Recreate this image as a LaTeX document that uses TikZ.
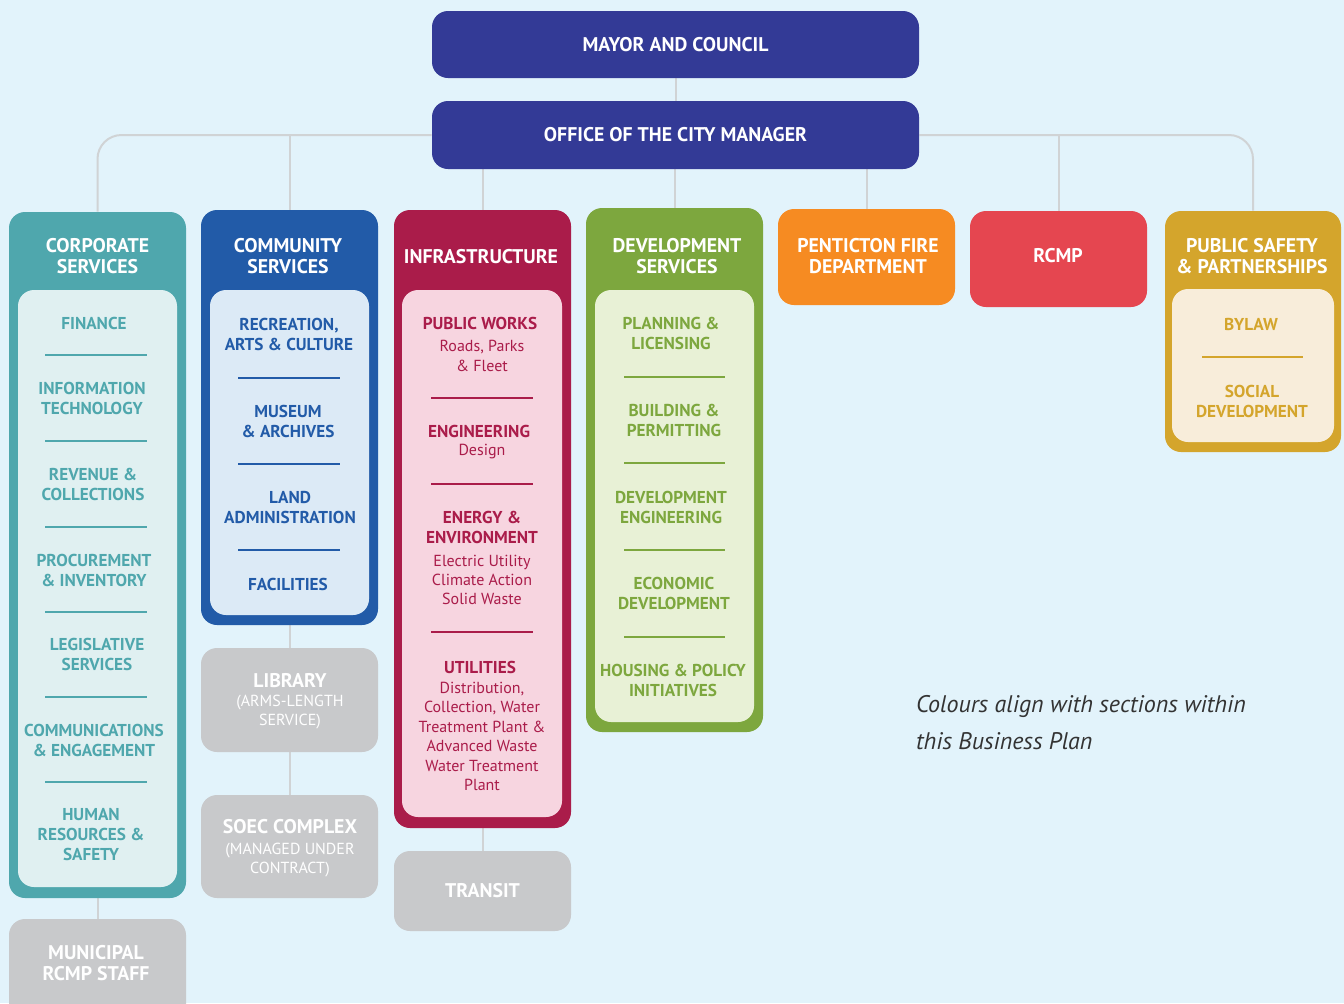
\documentclass[tikz,border=0pt]{standalone}
\usepackage{fontspec}
\setmainfont{PT Sans}
\usetikzlibrary{positioning, fit, backgrounds}

\definecolor{bgblue}{HTML}{E2F3FB}
\definecolor{navy}{HTML}{333A96}
\definecolor{corpteal}{HTML}{4FA7AD}
\definecolor{corpin}{HTML}{E0F0F1}
\definecolor{commblue}{HTML}{225BA8}
\definecolor{commin}{HTML}{DCEAF6}
\definecolor{infracrim}{HTML}{AA1C4A}
\definecolor{infrain}{HTML}{F7D5E0}
\definecolor{devgreen}{HTML}{7DA73E}
\definecolor{devin}{HTML}{E8F1D6}
\definecolor{fireorange}{HTML}{F68B22}
\definecolor{rcmpred}{HTML}{E54650}
\definecolor{safegold}{HTML}{D4A52C}
\definecolor{safein}{HTML}{F8EDDA}
\definecolor{othergray}{HTML}{C8C9CB}
\definecolor{connline}{HTML}{D0D3D5}
\definecolor{notegray}{HTML}{333333}

\begin{document}
\begin{tikzpicture}[x=0.5pt, y=-0.5pt,
  box/.style={inner sep=0pt, rounded corners=8pt, draw=none},
  head/.style={font=\bfseries\fontsize{9.9}{10.25}\selectfont, text=white, align=center},
  item/.style={font=\bfseries\fontsize{8.6}{10}\selectfont, align=center},
  sub/.style={font=\fontsize{8}{9.7}\selectfont, align=center},
  conn/.style={draw=connline, line width=1pt},
  divider/.style={line width=0.75pt}
]

  \clip (0,0) rectangle (1344,1003);

  % Mayor and city manager
  \node[box, fill=navy, fit={(432,11) (919,78)}] (mayor) {};
  \node[head] (mayortext) at (mayor) {MAYOR AND COUNCIL};
  \node[box, fill=navy, fit={(432,101) (919,169)}] (office) {};
  \node[head] (officetext) at (office) {OFFICE OF THE CITY MANAGER};

  % Department columns
  \node[box, fill=corpteal, fit={(9,212) (186,898)}] (corp) {};
  \node[box, fill=corpin, fit={(18,290) (177,887)}] (corpin) {};
  \node[head] (corphead) at (97.5,256) {CORPORATE\\SERVICES};

  \node[box, fill=commblue, fit={(201,210) (378,625)}] (comm) {};
  \node[box, fill=commin, fit={(210,290) (369,615)}] (commin) {};
  \node[head] (commhead) at (288,256) {COMMUNITY\\SERVICES};

  \node[box, fill=infracrim, fit={(394,210) (571,828)}] (infra) {};
  \node[box, fill=infrain, fit={(402,290) (562,817)}] (infrain) {};
  \node[head] (infrahead) at (481,257) {INFRASTRUCTURE};

  \node[box, fill=devgreen, fit={(586,208) (763,732)}] (dev) {};
  \node[box, fill=devin, fit={(595,290) (754,722)}] (devin) {};
  \node[head] (devhead) at (677,256) {DEVELOPMENT\\SERVICES};

  \node[box, fill=fireorange, fit={(778,209) (955,305)}] (fire) {};
  \node[head] (firehead) at (868,256) {PENTICTON FIRE\\DEPARTMENT};

  \node[box, fill=rcmpred, fit={(970,211) (1147,307)}] (rcmp) {};
  \node[head] (rcmphead) at (1058,256) {RCMP};

  \node[box, fill=safegold, fit={(1165,211) (1341,452)}] (safe) {};
  \node[box, fill=safein, fit={(1172,289) (1334,442)}] (safein) {};
  \node[head] (safehead) at (1252,256) {PUBLIC SAFETY\\\& PARTNERSHIPS};

  % Arms-length and contracted units
  \node[box, fill=othergray, fit={(201,648) (378,752)}] (library) {};
  \node[head] (libhead) at (290,681) {LIBRARY};
  \node[sub, text=white] (libsub) at (290,712) {(ARMS-LENGTH\\SERVICE)};

  \node[box, fill=othergray, fit={(201,795) (378,898)}] (soec) {};
  \node[head] (soechead) at (290,827) {SOEC COMPLEX};
  \node[sub, text=white] (soecsub) at (290,860) {(MANAGED UNDER\\CONTRACT)};

  \node[box, fill=othergray, fit={(394,851) (571,931)}] (transit) {};
  \node[head] (transithead) at (transit) {TRANSIT};

  \node[box, fill=othergray, fit={(9,919) (186,1020)}] (staff) {};
  \node[head] (staffhead) at (96,963) {MUNICIPAL\\RCMP STAFF};

  % Background and connectors
  \begin{scope}[on background layer]
    \fill[bgblue] (0,0) rectangle (1344,1003);
    \draw[conn] (mayor) -- (office);
    \draw[conn, rounded corners=12pt] (corp.north) |- (office.west);
    \draw[conn, rounded corners=12pt] (safe.north) |- (office.east);
    \draw[conn] (comm.north) -- (comm.north |- office.west);
    \draw[conn] (rcmp.north) -- (rcmp.north |- office.east);
    \draw[conn] (infra.north) -- (infra.north |- office.south);
    \draw[conn] (dev.north) -- (dev.north |- office.south);
    \draw[conn] (fire.north) -- (fire.north |- office.south);
    \draw[conn] (corp.south) -- (staff.north);
    \draw[conn] (comm.south) -- (library.north);
    \draw[conn] (library.south) -- (soec.north);
    \draw[conn] (infra.south) -- (transit.north);
  \end{scope}

  % Corporate services
  \node[item, text=corpteal] (finance) at (94,323) {FINANCE};
  \node[item, text=corpteal] (infotech) at (92,398) {INFORMATION\\TECHNOLOGY};
  \node[item, text=corpteal] (revenue) at (93,484) {REVENUE \&\\COLLECTIONS};
  \node[item, text=corpteal] (procure) at (94,570) {PROCUREMENT\\\& INVENTORY};
  \node[item, text=corpteal] (legis) at (97,654) {LEGISLATIVE\\SERVICES};
  \node[item, text=corpteal] (comms) at (94,740) {COMMUNICATIONS\\\& ENGAGEMENT};
  \node[item, text=corpteal] (hr) at (91,835) {HUMAN\\RESOURCES \&\\SAFETY};
  \foreach \y in {355,441,527,612,697,782}
    \draw[divider, corpteal] (45,\y) -- (147,\y);

  % Community services
  \node[item, text=commblue] (rec) at (289,334.5) {RECREATION,\\ARTS \& CULTURE};
  \node[item, text=commblue] (museum) at (288,421) {MUSEUM\\\& ARCHIVES};
  \node[item, text=commblue] (land) at (290,507.5) {LAND\\ADMINISTRATION};
  \node[item, text=commblue] (facil) at (288,584) {FACILITIES};
  \foreach \y in {378,464,550}
    \draw[divider, commblue] (238,\y) -- (340,\y);

  % Infrastructure
  \node[item, text=infracrim] (pw) at (480,323) {PUBLIC WORKS};
  \node[sub, text=infracrim] (pwsub) at (482,356) {Roads, Parks\\\& Fleet};
  \node[item, text=infracrim] (eng) at (479,431) {ENGINEERING};
  \node[sub, text=infracrim] (engsub) at (482,452) {Design};
  \node[item, text=infracrim] (energy) at (482,527) {ENERGY \&\\ENVIRONMENT};
  \node[sub, text=infracrim] (energysub) at (482,580) {Electric Utility\\Climate Action\\Solid Waste};
  \node[item, text=infracrim] (util) at (480,667) {UTILITIES};
  \node[sub, text=infracrim] (utilsub) at (482,736.5) {Distribution,\\Collection, Water\\Treatment Plant \&\\Advanced Waste\\Water Treatment\\Plant};
  \foreach \y in {398,484,632}
    \draw[divider, infracrim] (431,\y) -- (533,\y);

  % Development services
  \node[item, text=devgreen] (plan) at (671,333) {PLANNING \&\\LICENSING};
  \node[item, text=devgreen] (build) at (674,420) {BUILDING \&\\PERMITTING};
  \node[item, text=devgreen] (deveng) at (671,507.5) {DEVELOPMENT\\ENGINEERING};
  \node[item, text=devgreen] (econ) at (674,593.5) {ECONOMIC\\DEVELOPMENT};
  \node[item, text=devgreen] (housing) at (673,680.5) {HOUSING \& POLICY\\INITIATIVES};
  \foreach \y in {377,463,550,637}
    \draw[divider, devgreen] (624,\y) -- (725,\y);

  % Public safety
  \node[item, text=safegold] (bylaw) at (1251,324) {BYLAW};
  \node[item, text=safegold] (social) at (1252,401) {SOCIAL\\DEVELOPMENT};
  \draw[divider, safegold] (1202,357) -- (1303,357);

  % Note
  \node[font=\itshape\fontsize{12}{18.5}\selectfont, text=notegray, align=left, anchor=west]
    (note) at (909,723) {Colours align with sections within\\this Business Plan};

\end{tikzpicture}
\end{document}
